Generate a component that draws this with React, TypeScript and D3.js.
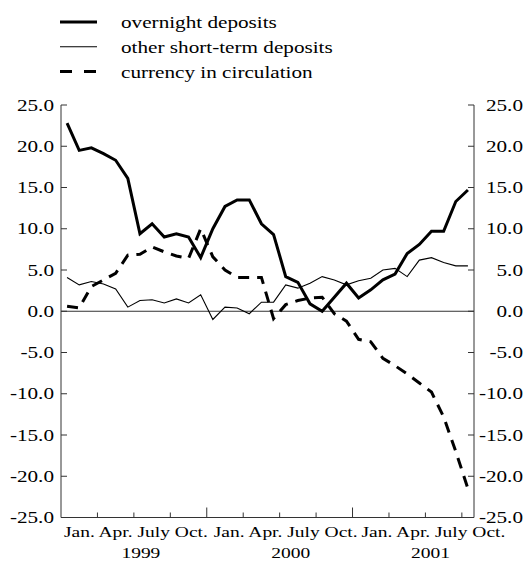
import React from "react";
import * as d3 from "d3";

const overnight = [22.8, 19.5, 19.8, 19.1, 18.3, 16.1, 9.4, 10.6, 9.0, 9.4, 9.0, 6.5,
  10.0, 12.7, 13.5, 13.5, 10.6, 9.3, 4.2, 3.5, 0.9, 0.0, 1.7, 3.4,
  1.6, 2.6, 3.8, 4.5, 7.0, 8.1, 9.7, 9.7, 13.3, 14.7];
const otherShort = [4.1, 3.2, 3.6, 3.3, 2.7, 0.5, 1.3, 1.4, 1.0, 1.5, 1.0, 2.0,
  -1.0, 0.5, 0.4, -0.3, 1.1, 1.1, 3.2, 2.8, 3.4, 4.2, 3.8, 3.2,
  3.7, 4.0, 5.0, 5.2, 4.2, 6.2, 6.5, 5.9, 5.5, 5.5];
const currency = [0.6, 0.4, 3.0, 3.8, 4.6, 6.8, 6.9, 7.8, 7.2, 6.7, 6.4, 10.0,
  6.6, 5.0, 4.1, 4.1, 4.1, -0.9, 0.8, 1.3, 1.6, 1.7, -0.3, -1.2,
  -3.4, -3.7, -5.7, -6.6, -7.6, -8.7, -9.8, -12.8, -17.0, -21.5];

const yTicks = [25, 20, 15, 10, 5, 0, -5, -10, -15, -20, -25];
const quarterLabel = "Jan. Apr. July Oct.";
const years = ["1999", "2000", "2001"];
const legendNames = ["overnight deposits", "other short-term deposits", "currency in circulation"];

const FONT = "'Liberation Serif', 'Times New Roman', serif";
const SX = 1.3;

export default function App() {
  const W = 528, H = 565;
  const x = d3.scaleLinear().domain([0, 34]).range([61, 474]);
  const y = d3.scaleLinear().domain([-25, 25]).range([517.5, 105]);
  const line = d3.line<number>().x((_, i) => x(i + 0.5)).y((d) => y(d));

  const styles = [
    { w: 3, dash: undefined as string | undefined },
    { w: 1.1, dash: undefined as string | undefined },
    { w: 3, dash: "11 8" },
  ];
  const series = [overnight, otherShort, currency];
  const qTicks = d3.range(3, 34, 3);
  const labelOffsets = [2, 6, 8];
  const yearOffsets = [7, 11, 5];

  const txt = (
    s: string,
    tx: number,
    ty: number,
    size: number,
    anchor: "start" | "middle" | "end",
    key: string
  ) => (
    <text
      key={key}
      transform={`translate(${tx},${ty}) scale(${SX},1)`}
      textAnchor={anchor}
      fontFamily={FONT}
      fontSize={size}
      fill="#000"
    >
      {s}
    </text>
  );

  return (
    <svg width={W} height={H} style={{ position: "absolute", left: 0, top: 0, background: "#fff" }}>
      <rect x={0} y={0} width={W} height={H} fill="#fff" />
      {/* legend */}
      {legendNames.map((n, i) => (
        <g key={n}>
          <line
            x1={60}
            x2={97}
            y1={22 + i * 24.8}
            y2={22 + i * 24.8}
            stroke="#000"
            strokeWidth={styles[i].w}
            strokeDasharray={i === 2 ? "12 12" : undefined}
          />
          {txt(n, 121, 28 + i * 24.8, 16.3, "start", "lg" + i)}
        </g>
      ))}
      {/* zero line */}
      <line x1={x(0)} x2={x(34)} y1={y(0)} y2={y(0)} stroke="#333" strokeWidth={1} />
      {/* axes */}
      <line x1={x(0)} x2={x(0)} y1={y(25)} y2={y(-25)} stroke="#333" strokeWidth={1} />
      <line x1={x(34)} x2={x(34)} y1={y(25)} y2={y(-25)} stroke="#333" strokeWidth={1} />
      <line x1={x(0)} x2={x(34)} y1={y(-25)} y2={y(-25)} stroke="#333" strokeWidth={1} />
      {yTicks.map((t) => (
        <g key={"yt" + t}>
          <line x1={x(0)} x2={x(0) + 6} y1={y(t)} y2={y(t)} stroke="#333" />
          <line x1={x(34) - 6} x2={x(34)} y1={y(t)} y2={y(t)} stroke="#333" />
          {txt(t.toFixed(1), 54, y(t) + 5.5, 16.3, "end", "yl" + t)}
          {txt(t.toFixed(1), 523, y(t) + 5.5, 16.3, "end", "yr" + t)}
        </g>
      ))}
      {qTicks.map((q) => (
        <line
          key={"xt" + q}
          x1={x(q)}
          x2={x(q)}
          y1={y(-25)}
          y2={y(-25) - (q % 12 === 0 ? 10 : 5)}
          stroke="#333"
        />
      ))}
      {years.map((yr, k) => (
        <g key={yr}>
          {txt(quarterLabel, x(12 * k + 6) + labelOffsets[k], 537, 15, "middle", "ql" + k)}
          {txt(yr, x(12 * k + 6) + yearOffsets[k], 558, 15, "middle", "yy" + k)}
        </g>
      ))}
      {/* series */}
      {series.map((s, i) => (
        <path
          key={"s" + i}
          d={line(s) || ""}
          fill="none"
          stroke="#000"
          strokeWidth={styles[i].w}
          strokeDasharray={styles[i].dash}
          strokeLinejoin="miter"
        />
      ))}
    </svg>
  );
}
